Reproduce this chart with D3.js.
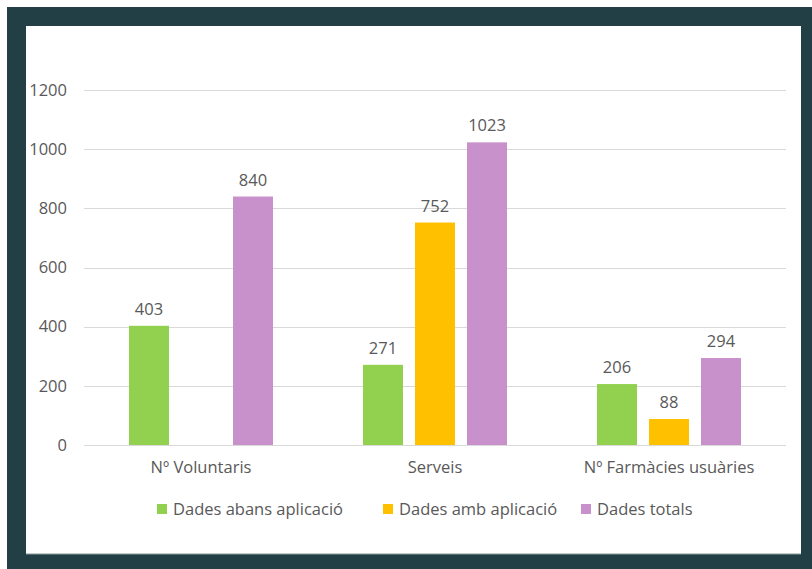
<!DOCTYPE html>
<html>
<head>
<meta charset="utf-8">
<script src="https://cdn.jsdelivr.net/npm/d3@7"></script>
<style>
  body { margin: 0; background: #ffffff; }
  text { font-family: "Open Sans", "Noto Sans", sans-serif; fill: #595959; }
</style>
</head>
<body>
<svg id="mainSvg" width="812" height="569"></svg>
<script>
var categories = ["Nº Voluntaris", "Serveis", "Nº Farmàcies usuàries"];
var seriesNames = ["Dades abans aplicació", "Dades amb aplicació", "Dades totals"];
var abans = [403, 271, 206];
var amb = [null, 752, 88];
var totals = [840, 1023, 294];
var yTicks = [0, 200, 400, 600, 800, 1000, 1200];
var colors = ["#92d050", "#ffc000", "#c991cc"];

var seriesValues = [abans, amb, totals];

var svg = d3.select("#mainSvg");

// frame
svg.append("rect").attr("x", 7).attr("y", 7).attr("width", 805).attr("height", 562).attr("fill", "#213f45");
svg.append("rect").attr("x", 26).attr("y", 26).attr("width", 775).attr("height", 528).attr("fill", "#ffffff");
svg.append("line").attr("x1", 26).attr("x2", 801).attr("y1", 554).attr("y2", 554)
  .attr("stroke", "#8a9a9a").attr("stroke-width", 1);

var plotLeft = 84, plotRight = 786, plotTop = 90, plotBottom = 445;

var x0 = d3.scaleBand().domain(categories).range([plotLeft, plotRight]);
var x1 = d3.scaleBand().domain(seriesNames).range([0, 144]).paddingInner(12 / 52).paddingOuter(0);
var y = d3.scaleLinear().domain([0, 1200]).range([plotBottom, plotTop]);

// gridlines
svg.append("g").selectAll("line")
  .data(yTicks)
  .enter().append("line")
  .attr("x1", plotLeft).attr("x2", plotRight)
  .attr("y1", function(d) { return Math.round(y(d)) + 0.5; })
  .attr("y2", function(d) { return Math.round(y(d)) + 0.5; })
  .attr("stroke", "#d9d9d9").attr("stroke-width", 1);

// y axis labels
var yAxis = d3.axisLeft(y).tickValues(yTicks).tickFormat(d3.format("d")).tickSize(0).tickPadding(17);
var yg = svg.append("g").attr("transform", "translate(" + plotLeft + ",0)").call(yAxis);
yg.select(".domain").remove();
yg.selectAll("text").style("font-size", "16.5px").attr("fill", "#595959");

// x axis labels
var xAxis = d3.axisBottom(x0).tickSize(0).tickPadding(16);
var xg = svg.append("g").attr("transform", "translate(0," + plotBottom + ")").call(xAxis);
xg.select(".domain").remove();
xg.selectAll("text").style("font-size", "16.5px").attr("fill", "#595959");
yg.attr("font-family", null);
xg.attr("font-family", null);

// bars
var groups = svg.append("g").selectAll("g")
  .data(categories)
  .enter().append("g")
  .attr("transform", function(d) { return "translate(" + (x0(d) + x0.bandwidth() / 2 - 72) + ",0)"; });

groups.each(function(cat, ci) {
  var g = d3.select(this);
  var rows = seriesNames.map(function(s, si) { return { name: s, value: seriesValues[si][ci], color: colors[si] }; })
    .filter(function(r) { return r.value != null; });
  g.selectAll("rect")
    .data(rows)
    .enter().append("rect")
    .attr("x", function(r) { return x1(r.name); })
    .attr("width", x1.bandwidth())
    .attr("y", function(r) { return y(r.value); })
    .attr("height", function(r) { return plotBottom - y(r.value); })
    .attr("fill", function(r) { return r.color; });
  g.selectAll("text")
    .data(rows)
    .enter().append("text")
    .attr("x", function(r) { return x1(r.name) + x1.bandwidth() / 2; })
    .attr("y", function(r) { return y(r.value) - 11; })
    .attr("text-anchor", "middle")
    .style("font-size", "16.5px")
    .text(function(r) { return r.value; });
});

// legend
var legendX = [157, 383, 581];
var legend = svg.append("g").selectAll("g")
  .data(seriesNames)
  .enter().append("g")
  .attr("transform", function(d, i) { return "translate(" + legendX[i] + ",509)"; });
legend.append("rect").attr("x", 0).attr("y", -5).attr("width", 10).attr("height", 10)
  .attr("fill", function(d, i) { return colors[i]; });
legend.append("text").attr("x", 16).attr("y", 6)
  .style("font-size", "16.5px")
  .text(function(d) { return d; });
</script>
</body>
</html>
